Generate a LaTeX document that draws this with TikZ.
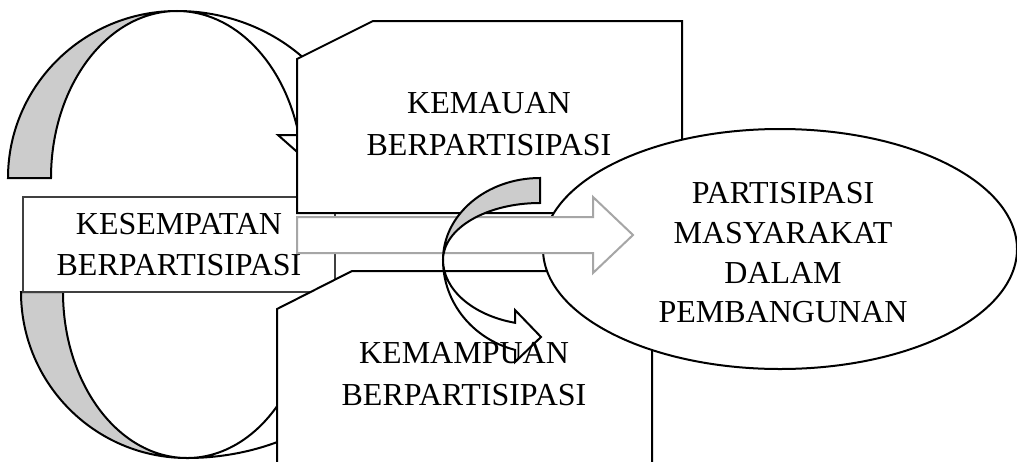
\documentclass[tikz,border=0pt]{standalone}
\usepackage{fontspec}
\setmainfont{Liberation Serif}
\definecolor{bandgray}{HTML}{CCCCCC}
\definecolor{arrgray}{HTML}{A6A6A6}
\definecolor{boxgray}{HTML}{404040}
\tikzset{
  ln/.style={line width=2pt, draw=black, line join=miter},
  band/.style={ln, fill=bandgray},
  front/.style={ln, fill=white},
  shapebox/.style={ln, fill=white},
  thinbox/.style={line width=1.3pt, draw=boxgray, fill=white},
  grayarrow/.style={line width=2pt, draw=arrgray, fill=white, line join=miter},
  lbl/.style={font=\fontsize{32}{41}\selectfont, anchor=base, inner sep=0pt}
}
\begin{document}
\begin{tikzpicture}[x=1pt,y=-1pt]
\useasboundingbox[fill=white] (0,0) rectangle (1017,461);
% upper left curved arrow (back and front)
\draw[band] (8,178) arc[start angle=180,end angle=270,x radius=169,y radius=167]
  arc[start angle=270,end angle=180,x radius=126,y radius=167] -- cycle;
\draw[front] (177,11) arc[start angle=270,end angle=345.08,x radius=182,y radius=167]
  -- (382,135) -- (330,181) -- (278,135) -- (298.8,135)
  arc[start angle=345.08,end angle=270,x radius=126,y radius=167] -- cycle;
% lower left curved arrow (back and front)
\draw[band] (21,292) arc[start angle=180,end angle=90,x radius=166,y radius=166]
  arc[start angle=90,end angle=180,x radius=124,y radius=166] -- cycle;
\draw[front] (187,458) arc[start angle=90,end angle=32,x radius=211,y radius=166]
  -- (388,380) -- (335,328) -- (284,380) -- (292.2,380)
  arc[start angle=32,end angle=90,x radius=124,y radius=166] -- cycle;
% KESEMPATAN box
\draw[thinbox] (23,197) rectangle (335,292);
\node[lbl] (kes1) at (179,234) {KESEMPATAN};
\node[lbl] (kes2) at (179,275) {BERPARTISIPASI};
% KEMAUAN box
\draw[shapebox] (297,59) -- (373,21) -- (682,21) -- (682,213) -- (297,213) -- cycle;
\node[lbl] (kmu1) at (489,113) {KEMAUAN};
\node[lbl] (kmu2) at (489,155) {BERPARTISIPASI};
% KEMAMPUAN box
\draw[shapebox] (277,309) -- (352,271) -- (652,271) -- (652,490) -- (277,490) -- cycle;
% ellipse
\draw[shapebox] (780,249) ellipse[x radius=237,y radius=120];
% big gray arrow
\draw[grayarrow] (297,217) -- (593,217) -- (593,197) -- (633,235) -- (593,273)
  -- (593,253) -- (297,253) -- cycle;
% middle curved arrow
\draw[band] (540,178) arc[start angle=270,end angle=180,x radius=97,y radius=82]
  arc[start angle=180,end angle=270,x radius=97,y radius=57] -- cycle;
\draw[front] (443,260) arc[start angle=180,end angle=104.94,x radius=97,y radius=93]
  -- (515,362) -- (541,337) -- (515,310) -- (515,322.8)
  arc[start angle=104.94,end angle=180,x radius=97,y radius=65] -- cycle;
% texts
\node[lbl] (kmp1) at (464,363) {KEMAMPUAN};
\node[lbl] (kmp2) at (464,405) {BERPARTISIPASI};
\node[lbl] (par1) at (783,203) {PARTISIPASI};
\node[lbl] (par2) at (783,243) {MASYARAKAT};
\node[lbl] (par3) at (783,283) {DALAM};
\node[lbl] (par4) at (783,322) {PEMBANGUNAN};
\end{tikzpicture}
\end{document}
